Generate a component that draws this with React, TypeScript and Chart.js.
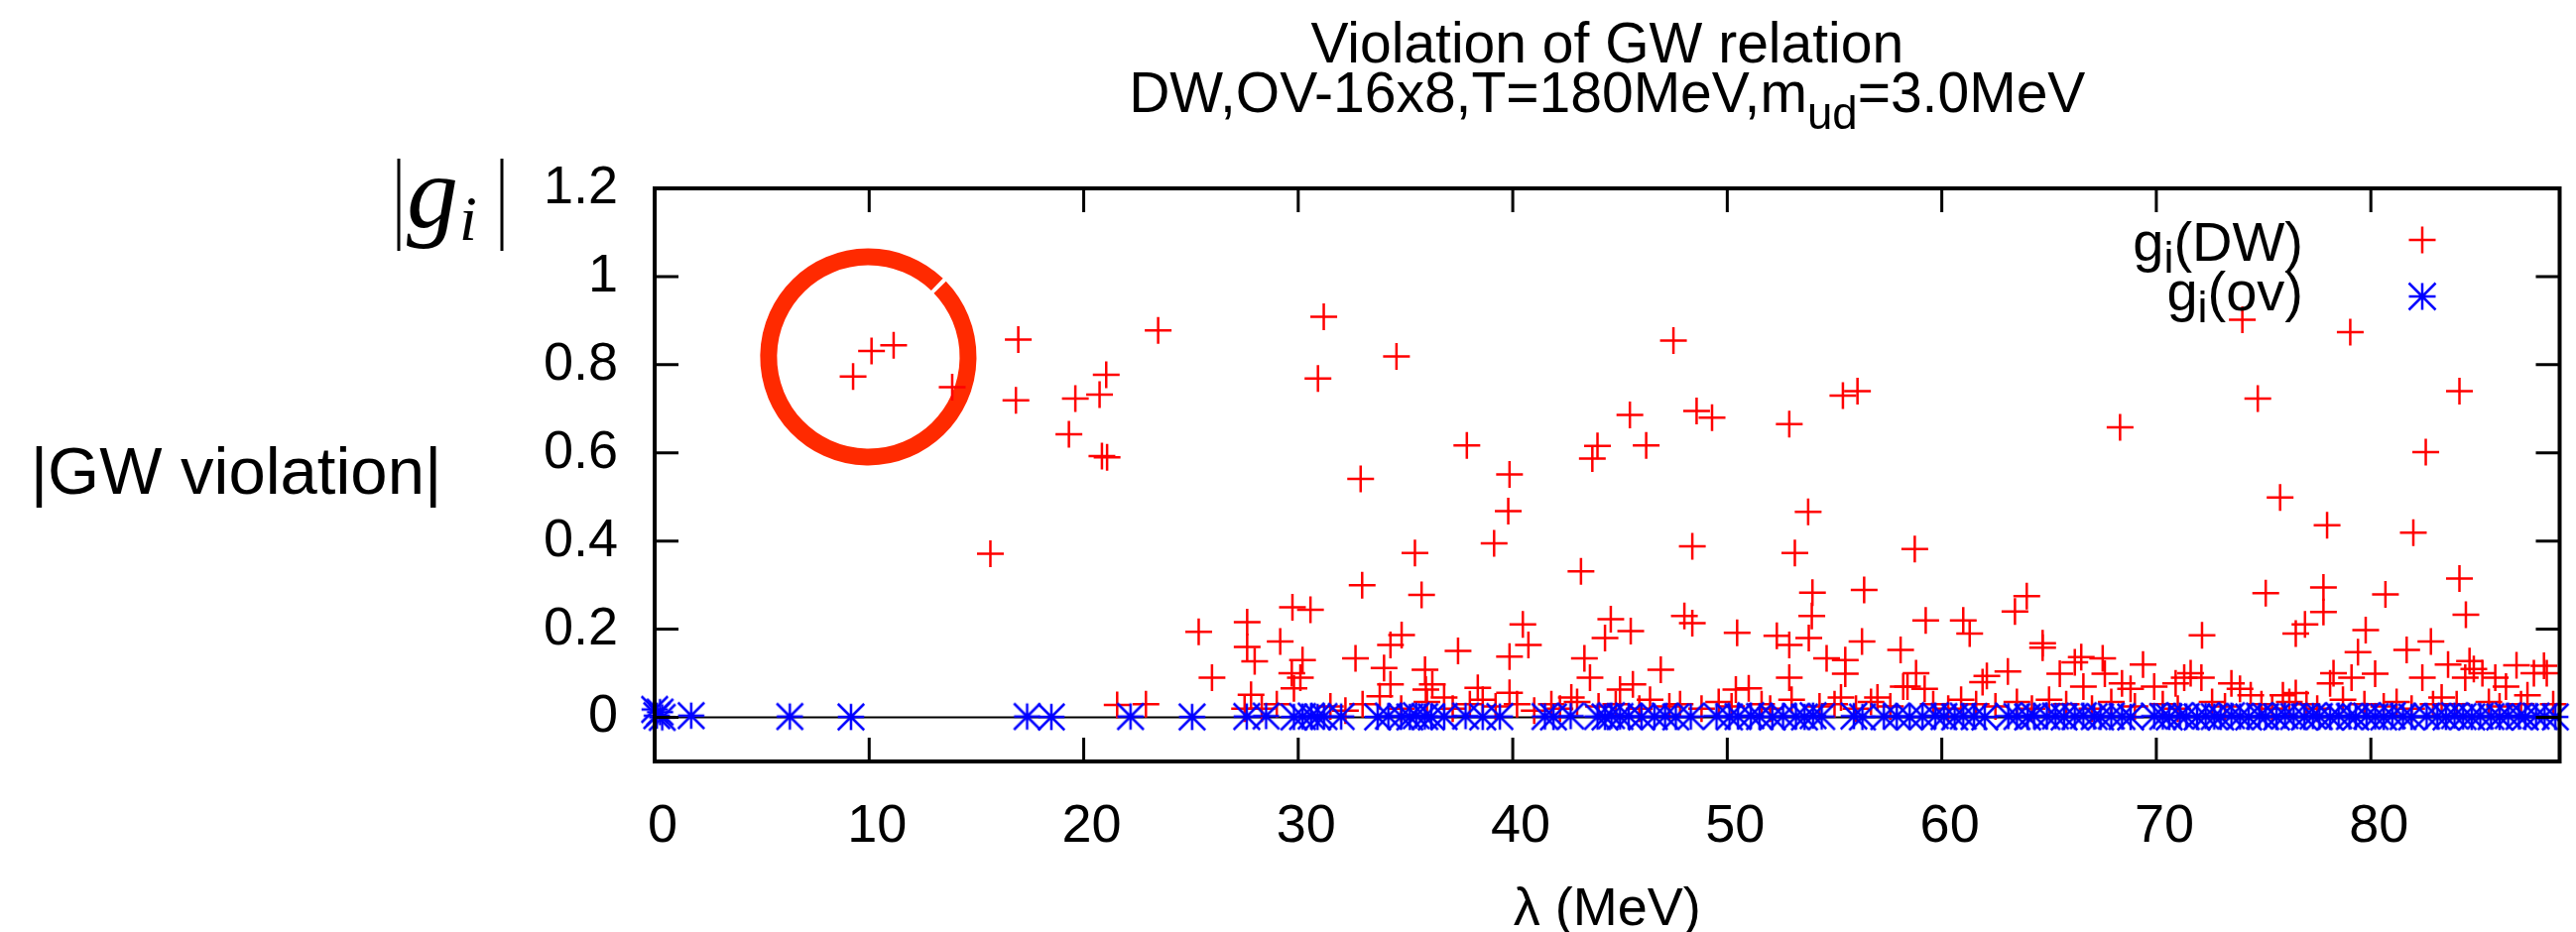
import React, { useEffect, useRef } from "react";
import { Chart, registerables } from "chart.js";

Chart.register(...registerables);

const TITLE_LINE1 = "Violation of GW relation";
const TITLE_LINE2_PRE = "DW,OV-16x8,T=180MeV,m";
const TITLE_LINE2_SUB = "ud";
const TITLE_LINE2_POST = "=3.0MeV";
const X_TITLE = "λ (MeV)";
const Y_TITLE = "|GW violation|";
const LEGEND_DW = ["g", "i", "(DW)"];
const LEGEND_OV = ["g", "i", "(ov)"];

const X_TICKS = [0, 10, 20, 30, 40, 50, 60, 70, 80];
const Y_TICKS = [0, 0.2, 0.4, 0.6, 0.8, 1, 1.2];
const X_MIN = 0;
const X_MAX = 88.8;
const Y_MIN = -0.1;
const Y_MAX = 1.2;

// hand-drawn circle annotation (data units)
const CIRCLE_CENTER = [9.96, 0.8176];
const CIRCLE_RADIUS = [4.65, 0.227];

// g_i(DW): [lambda, |g_i|]
const DW_POINTS: [number, number][] = [
  [9.25, 0.773], [10.11, 0.831], [11.14, 0.844], [13.87, 0.749], [16.95, 0.857], [16.84, 0.719],
  [19.61, 0.723], [20.74, 0.732], [21.05, 0.777], [19.31, 0.642], [20.85, 0.593], [21.09, 0.59],
  [23.47, 0.878], [15.65, 0.371], [25.36, 0.194], [25.98, 0.09], [27.62, 0.216], [27.62, 0.16],
  [27.97, 0.127], [27.8, 0.051], [21.56, 0.028], [22.9, 0.03], [27.5, 0.02], [29.16, 0.172],
  [31.19, 0.909], [30.92, 0.769], [34.58, 0.819], [32.91, 0.541], [37.86, 0.617], [39.85, 0.551],
  [39.79, 0.468], [39.13, 0.395], [35.44, 0.373], [32.98, 0.3], [35.75, 0.278], [47.49, 0.855],
  [45.46, 0.686], [48.57, 0.695], [49.29, 0.68], [43.95, 0.616], [43.71, 0.587], [46.22, 0.617],
  [52.89, 0.665], [55.39, 0.73], [56.07, 0.74], [53.77, 0.466], [53.15, 0.373], [48.37, 0.388],
  [43.18, 0.331], [58.74, 0.382], [56.38, 0.289], [53.97, 0.283], [53.94, 0.23], [48.0, 0.23],
  [48.37, 0.214], [50.46, 0.192], [52.31, 0.185], [52.89, 0.164], [53.8, 0.18], [56.28, 0.172],
  [59.25, 0.22], [58.08, 0.153], [54.63, 0.134], [55.5, 0.13], [55.5, 0.099], [52.89, 0.09],
  [55.3, 0.045], [57.0, 0.045], [58.2, 0.07], [58.8, 0.1], [50.4, 0.063], [51.0, 0.066],
  [44.57, 0.223], [45.5, 0.196], [44.3, 0.18], [43.34, 0.134], [43.6, 0.09], [46.9, 0.108],
  [45.6, 0.075], [45.0, 0.063], [42.73, 0.045], [40.47, 0.211], [40.73, 0.164], [39.85, 0.138],
  [39.85, 0.056], [38.37, 0.067], [37.45, 0.151], [36.8, 0.045], [35.91, 0.108], [36.25, 0.075],
  [35.95, 0.063], [34.82, 0.187], [34.3, 0.164], [34.0, 0.112], [34.3, 0.075], [33.8, 0.048],
  [32.67, 0.134], [30.57, 0.244], [29.73, 0.25], [30.2, 0.13], [29.7, 0.1], [30.1, 0.09],
  [29.8, 0.066], [38.6, 0.04],
  [74.01, 0.902], [79.04, 0.874], [74.73, 0.723], [68.31, 0.658], [84.13, 0.74], [82.56, 0.602],
  [75.77, 0.499], [77.96, 0.436], [81.98, 0.419], [84.13, 0.315], [75.1, 0.282], [77.79, 0.295],
  [80.68, 0.279], [84.43, 0.233], [77.79, 0.239], [76.93, 0.211], [76.5, 0.19], [79.76, 0.198],
  [72.13, 0.186], [61.0, 0.22], [61.3, 0.19], [63.41, 0.24], [63.96, 0.275], [64.7, 0.168],
  [64.7, 0.158], [79.4, 0.148], [81.67, 0.153], [82.8, 0.172], [80.2, 0.099], [82.4, 0.09],
  [83.6, 0.12], [84.6, 0.128], [84.8, 0.11], [86.79, 0.118], [85.2, 0.1], [85.8, 0.09],
  [86.3, 0.07], [88.07, 0.117], [88.2, 0.1], [87.6, 0.1], [84.4, 0.09], [78.26, 0.1],
  [78.1, 0.077], [79.1, 0.09], [76.5, 0.055], [75.9, 0.05], [69.38, 0.12], [66.5, 0.137],
  [67.5, 0.134], [66.2, 0.125], [65.5, 0.099], [67.6, 0.099], [66.6, 0.07], [68.4, 0.077],
  [68.8, 0.065], [69.9, 0.07], [70.9, 0.077], [71.3, 0.09], [71.6, 0.1], [72.1, 0.09],
  [73.5, 0.077], [73.9, 0.065], [74.4, 0.05], [63.08, 0.104], [62.1, 0.094], [61.9, 0.08],
  [59.2, 0.065], [58.4, 0.07],
  [28.3, 0.02], [29.0, 0.03], [31.5, 0.025], [32.2, 0.015], [33.0, 0.03], [34.8, 0.02],
  [36.0, 0.035], [37.2, 0.02], [38.0, 0.03], [39.2, 0.025], [40.2, 0.03], [41.0, 0.015],
  [41.8, 0.03], [42.2, 0.02], [43.0, 0.035], [44.0, 0.025], [44.8, 0.03], [45.9, 0.02],
  [46.4, 0.04], [47.3, 0.025], [47.8, 0.03], [48.8, 0.02], [49.6, 0.035], [50.2, 0.025],
  [51.6, 0.03], [52.0, 0.02], [53.0, 0.04], [54.3, 0.025], [55.0, 0.03], [56.0, 0.02],
  [56.7, 0.035], [57.6, 0.025], [59.6, 0.03], [60.3, 0.02], [60.9, 0.04], [61.6, 0.03],
  [62.5, 0.025], [63.5, 0.035], [64.2, 0.02], [65.0, 0.04], [65.8, 0.03], [67.0, 0.02],
  [67.9, 0.035], [69.0, 0.025], [70.3, 0.03], [71.0, 0.02], [72.6, 0.035], [73.2, 0.025],
  [74.9, 0.03], [75.4, 0.02], [76.2, 0.035], [77.0, 0.03], [77.5, 0.02], [78.7, 0.04],
  [79.7, 0.03], [80.6, 0.025], [81.2, 0.035], [81.9, 0.02], [82.9, 0.03], [83.3, 0.045],
  [84.0, 0.03], [85.5, 0.035], [86.0, 0.025], [87.0, 0.03], [87.3, 0.05], [88.5, 0.03],
];

// g_i(ov): [lambda, |g_i|]
const OV_POINTS: [number, number][] = [
  [0.0, 0.018], [0.1, 0.004], [0.25, 0.012], [0.35, 0.0], [1.7, 0.004], [6.3, 0.002],
  [9.15, 0.001], [17.36, 0.002], [18.49, 0.001], [22.18, 0.002], [25.05, 0.001], [27.6, 0.002],
  [28.5, 0.003], [29.8, 0.001], [30.2, 0.002], [30.6, 0.003], [30.9, 0.001], [31.2, 0.002],
  [32.0, 0.002], [33.7, 0.001], [34.2, 0.003], [34.8, 0.002], [35.2, 0.001], [35.5, 0.004],
  [35.9, 0.002], [36.2, 0.001], [36.8, 0.002], [37.8, 0.003], [38.6, 0.001], [39.4, 0.002],
  [41.5, 0.002], [41.9, 0.001], [42.7, 0.003], [43.95, 0.002], [44.3, 0.001], [44.6, 0.004],
  [45.0, 0.002], [45.4, 0.003], [46.0, 0.001], [46.6, 0.002], [47.1, 0.003], [47.6, 0.001],
  [48.3, 0.002], [49.5, 0.003], [50.1, 0.001], [50.5, 0.002], [51.1, 0.004], [51.5, 0.002],
  [52.1, 0.001], [52.6, 0.003], [53.2, 0.002], [53.6, 0.001], [54.0, 0.004], [54.4, 0.002],
  [55.9, 0.003], [56.3, 0.001], [57.3, 0.002], [57.9, 0.003], [58.5, 0.001], [59.1, 0.002],
  [59.7, 0.004], [60.1, 0.002], [60.6, 0.001], [61.0, 0.003], [61.5, 0.002], [62.0, 0.001],
  [63.1, 0.003], [63.5, 0.002], [64.0, 0.001], [64.3, 0.004], [64.9, 0.002], [65.3, 0.003],
  [65.7, 0.001], [66.2, 0.002], [66.6, 0.004], [67.1, 0.002], [67.4, 0.001], [67.9, 0.003],
  [68.4, 0.002], [68.8, 0.001], [69.9, 0.003], [70.3, 0.002], [70.6, 0.001], [71.1, 0.004],
  [71.4, 0.002], [71.9, 0.001], [72.3, 0.003], [72.7, 0.002], [73.0, 0.001], [73.5, 0.004],
  [73.9, 0.002], [74.3, 0.001], [74.8, 0.003], [75.1, 0.002], [75.6, 0.001], [76.0, 0.004],
  [76.4, 0.002], [76.9, 0.001], [77.3, 0.003], [77.6, 0.002], [78.1, 0.001], [78.5, 0.004],
  [79.0, 0.002], [79.3, 0.001], [79.8, 0.003], [80.2, 0.002], [80.6, 0.001], [81.0, 0.004],
  [81.5, 0.002], [81.9, 0.001], [82.6, 0.003], [83.1, 0.002], [83.5, 0.001], [83.9, 0.004],
  [84.3, 0.002], [84.7, 0.001], [85.1, 0.003], [85.6, 0.002], [86.0, 0.001], [86.4, 0.004],
  [86.9, 0.002], [87.2, 0.001], [87.7, 0.003], [88.1, 0.002], [88.6, 0.001],
];

const SANS = "'Liberation Sans', Arial, Helvetica, sans-serif";
const SERIF = "'Liberation Serif', 'DejaVu Serif', serif";
const RED = "#ff0000";
const BLUE = "#0000ff";
const CIRCLE_COLOR = "rgb(255,42,0)";

const W = 2597;
const H = 940;

function makeStarSymbol(size: number, color: string, lw: number): HTMLCanvasElement {
  const c = document.createElement("canvas");
  c.width = size;
  c.height = size;
  const g = c.getContext("2d")!;
  const m = lw / 2 + 0.5;
  const e = size - m;
  const mid = size / 2;
  g.strokeStyle = color;
  g.lineWidth = lw;
  g.beginPath();
  g.moveTo(m, mid);
  g.lineTo(e, mid);
  g.moveTo(mid, m);
  g.lineTo(mid, e);
  g.moveTo(m, m);
  g.lineTo(e, e);
  g.moveTo(m, e);
  g.lineTo(e, m);
  g.stroke();
  return c;
}

function drawSubText(
  ctx: CanvasRenderingContext2D,
  parts: string[],
  xRight: number | null,
  xCenter: number | null,
  y: number,
  size: number,
  subShift: number
) {
  const subSize = size * 0.8;
  ctx.font = `${size}px ${SANS}`;
  const w1 = ctx.measureText(parts[0]).width;
  const w3 = ctx.measureText(parts[2]).width;
  ctx.font = `${subSize}px ${SANS}`;
  const w2 = ctx.measureText(parts[1]).width;
  const total = w1 + w2 + w3;
  let x0 = 0;
  if (xRight !== null) x0 = xRight - total;
  else if (xCenter !== null) x0 = xCenter - total / 2;
  ctx.textAlign = "left";
  ctx.textBaseline = "alphabetic";
  ctx.font = `${size}px ${SANS}`;
  ctx.fillText(parts[0], x0, y);
  ctx.font = `${subSize}px ${SANS}`;
  ctx.fillText(parts[1], x0 + w1, y + subShift);
  ctx.font = `${size}px ${SANS}`;
  ctx.fillText(parts[2], x0 + w1 + w2, y);
}

const decorPlugin = {
  id: "gnuplotDecor",
  beforeDatasetsDraw(chart: any) {
    const { ctx, chartArea, scales } = chart;
    const xs = scales.x;
    const ys = scales.y;
    ctx.save();
    // zero axis
    const y0 = ys.getPixelForValue(0);
    ctx.strokeStyle = "#000";
    ctx.lineWidth = 2;
    ctx.beginPath();
    ctx.moveTo(chartArea.left, y0);
    ctx.lineTo(chartArea.right, y0);
    ctx.stroke();
    // circle annotation (hand-drawn, with a tiny break at the upper right)
    const cx = xs.getPixelForValue(CIRCLE_CENTER[0]);
    const cy = ys.getPixelForValue(CIRCLE_CENTER[1]);
    const rx = Math.abs(xs.getPixelForValue(CIRCLE_CENTER[0] + CIRCLE_RADIUS[0]) - cx);
    const ry = Math.abs(ys.getPixelForValue(CIRCLE_CENTER[1] + CIRCLE_RADIUS[1]) - cy);
    ctx.strokeStyle = CIRCLE_COLOR;
    ctx.lineWidth = 17;
    ctx.beginPath();
    ctx.ellipse(cx, cy, rx, ry, 0, -0.77, Math.PI * 2 - 0.81);
    ctx.stroke();
    ctx.restore();
  },
  afterDraw(chart: any) {
    const { ctx, chartArea, scales } = chart;
    const xs = scales.x;
    const ys = scales.y;
    const { left, right, top, bottom } = chartArea;
    ctx.save();
    // border
    ctx.strokeStyle = "#000";
    ctx.lineWidth = 4;
    ctx.strokeRect(left, top, right - left, bottom - top);
    // inward ticks, mirrored
    const TL = 24;
    ctx.lineWidth = 3;
    ctx.beginPath();
    for (const v of X_TICKS) {
      const px = xs.getPixelForValue(v);
      ctx.moveTo(px, bottom);
      ctx.lineTo(px, bottom - TL);
      ctx.moveTo(px, top);
      ctx.lineTo(px, top + TL);
    }
    for (const v of Y_TICKS) {
      const py = ys.getPixelForValue(v);
      ctx.moveTo(left, py);
      ctx.lineTo(left + TL, py);
      ctx.moveTo(right, py);
      ctx.lineTo(right - TL, py);
    }
    ctx.stroke();

    ctx.fillStyle = "#000";
    // title
    const midX = (left + right) / 2;
    ctx.font = `57px ${SANS}`;
    ctx.textAlign = "center";
    ctx.textBaseline = "alphabetic";
    ctx.fillText(TITLE_LINE1, midX, 63);
    drawSubText(ctx, [TITLE_LINE2_PRE, TITLE_LINE2_SUB, TITLE_LINE2_POST], null, midX, 113, 57, 17);

    // y label
    ctx.font = `67px ${SANS}`;
    ctx.textAlign = "left";
    ctx.textBaseline = "alphabetic";
    const yw = ctx.measureText(Y_TITLE).width;
    ctx.fillText(Y_TITLE, 238 - yw / 2, 498);

    // |g_i|
    ctx.lineWidth = 3;
    ctx.beginPath();
    ctx.moveTo(402, 160);
    ctx.lineTo(402, 253);
    ctx.moveTo(506, 160);
    ctx.lineTo(506, 253);
    ctx.stroke();
    ctx.textAlign = "left";
    ctx.textBaseline = "alphabetic";
    ctx.font = `italic 104px ${SERIF}`;
    ctx.fillText("g", 410, 229);
    ctx.font = `italic 64px ${SERIF}`;
    ctx.fillText("i", 463, 242);

    // legend
    drawSubText(ctx, LEGEND_DW, 2322, null, 263, 56, 12);
    drawSubText(ctx, LEGEND_OV, 2322, null, 313, 56, 12);
    const sx = 2442;
    const r = 13.5;
    ctx.lineWidth = 2.5;
    ctx.strokeStyle = RED;
    ctx.beginPath();
    ctx.moveTo(sx - r, 242);
    ctx.lineTo(sx + r, 242);
    ctx.moveTo(sx, 242 - r);
    ctx.lineTo(sx, 242 + r);
    ctx.stroke();
    ctx.strokeStyle = BLUE;
    ctx.beginPath();
    const sy = 299;
    ctx.moveTo(sx - r, sy);
    ctx.lineTo(sx + r, sy);
    ctx.moveTo(sx, sy - r);
    ctx.lineTo(sx, sy + r);
    ctx.moveTo(sx - r, sy - r);
    ctx.lineTo(sx + r, sy + r);
    ctx.moveTo(sx - r, sy + r);
    ctx.lineTo(sx + r, sy - r);
    ctx.stroke();
    ctx.restore();
  },
};

export default function App() {
  const ref = useRef<HTMLCanvasElement | null>(null);
  useEffect(() => {
    if (!ref.current) return;
    const starSymbol = makeStarSymbol(30, BLUE, 2.5);
    const chart = new Chart(ref.current, {
      type: "scatter",
      data: {
        datasets: [
          {
            label: "g_i(ov)",
            data: OV_POINTS.map(([x, y]) => ({ x, y })),
            pointStyle: starSymbol as any,
            radius: 14,
            borderColor: BLUE,
            backgroundColor: BLUE,
            borderWidth: 2.5,
            clip: false as any,
            order: 1,
          },
          {
            label: "g_i(DW)",
            data: DW_POINTS.map(([x, y]) => ({ x, y })),
            pointStyle: "cross",
            radius: 13.5,
            borderColor: RED,
            backgroundColor: RED,
            borderWidth: 2.5,
            clip: false as any,
            order: 2,
          },
        ],
      },
      options: {
        animation: false,
        responsive: false,
        devicePixelRatio: 1,
        layout: { padding: { top: 190, right: 6, left: 0, bottom: 0 } },
        plugins: {
          legend: { display: false },
          tooltip: { enabled: false },
          title: { display: false },
        },
        scales: {
          x: {
            type: "linear",
            min: X_MIN,
            max: X_MAX,
            afterBuildTicks: (s: any) => {
              s.ticks = X_TICKS.map((v) => ({ value: v }));
            },
            afterFit: (s: any) => {
              s.height = 172;
              s.paddingLeft = 0;
              s.paddingRight = 0;
            },
            grid: { display: false, drawTicks: false },
            border: { display: false },
            ticks: {
              color: "#000",
              font: { family: SANS, size: 54 },
              padding: 34,
              labelOffset: 8,
              maxRotation: 0,
              autoSkip: false,
              callback: (v: any) => String(v),
            },
            title: {
              display: true,
              text: X_TITLE,
              color: "#000",
              font: { family: SANS, size: 54, lineHeight: 0.8 },
              padding: 0,
            },
          },
          y: {
            type: "linear",
            min: Y_MIN,
            max: Y_MAX,
            afterBuildTicks: (s: any) => {
              s.ticks = Y_TICKS.map((v) => ({ value: v }));
            },
            afterFit: (s: any) => {
              s.width = 660;
              s.paddingTop = 0;
              s.paddingBottom = 0;
            },
            grid: { display: false, drawTicks: false },
            border: { display: false },
            ticks: {
              color: "#000",
              font: { family: SANS, size: 54 },
              padding: 37,
              autoSkip: false,
              callback: (v: any) => String(v),
            },
          },
        },
      },
      plugins: [decorPlugin],
    });
    return () => chart.destroy();
  }, []);
  return (
    <div style={{ position: "absolute", left: 0, top: 0, width: W, height: H, background: "#fff" }}>
      <canvas ref={ref} width={W} height={H} style={{ width: W, height: H, display: "block" }} />
    </div>
  );
}
